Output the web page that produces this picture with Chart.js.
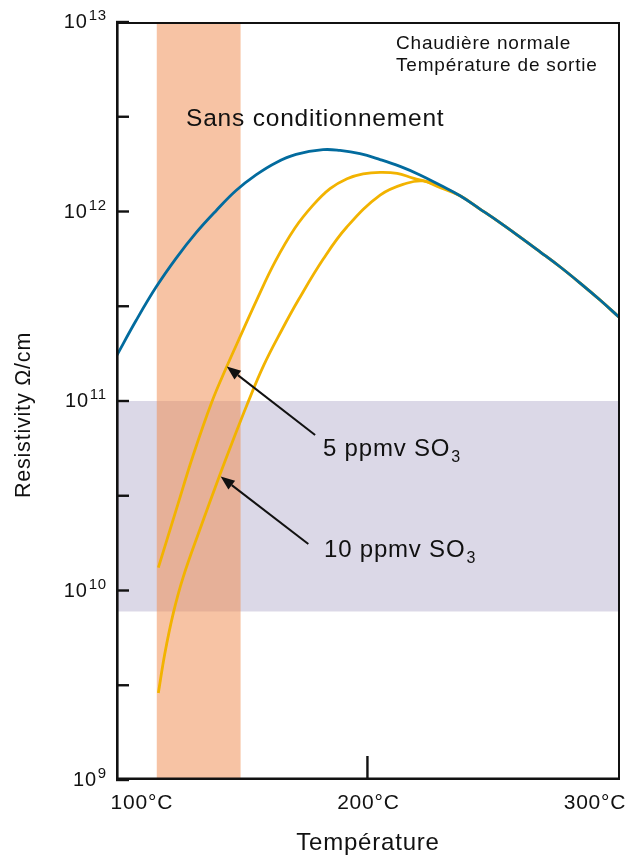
<!DOCTYPE html>
<html>
<head>
<meta charset="utf-8">
<script src="https://cdn.jsdelivr.net/npm/chart.js@4.4.0/dist/chart.umd.min.js"></script>
<style>
html,body{margin:0;padding:0;background:#fff;}
#wrap{width:636px;height:856px;position:relative;}
canvas{display:block;}
</style>
</head>
<body>
<div id="wrap"><canvas id="c" width="636" height="856"></canvas></div>
<script>
// ---------- data (temperature in °C, resistivity in Ω·cm) ----------
const tempNoCond = [89, 97.8, 106.7, 115.5, 124.3, 133.2, 142.0, 150.8, 159.6, 168.5, 180.4, 187.9, 196.7, 205.6, 214.4, 223.2, 232.0, 240.9, 249.7, 258.5, 267.4, 276.2, 285.0, 293.9, 302.7, 311.5];
const resNoCond  = [1.71e11, 2.65e11, 3.99e11, 5.66e11, 7.71e11, 1.01e12, 1.29e12, 1.56e12, 1.81e12, 2.00e12, 2.12e12, 2.10e12, 2.02e12, 1.88e12, 1.73e12, 1.56e12, 1.38e12, 1.21e12, 1.03e12, 8.74e11, 7.33e11, 6.13e11, 5.11e11, 4.19e11, 3.41e11, 2.74e11];

const temp5ppm = [107.7, 115.8, 123.1, 131.3, 137.9, 144.5, 151.1, 159.2, 168.0, 176.0, 183.5, 191.0, 198.1, 205.6, 213.1, 220.1, 227.6, 232.0, 240.9, 249.7, 258.5, 267.4, 276.2, 285.0, 293.9, 302.7, 311.5];
const res5ppm  = [1.32e10, 2.72e10, 5.19e10, 9.89e10, 1.52e11, 2.28e11, 3.41e11, 5.42e11, 8.18e11, 1.08e12, 1.32e12, 1.49e12, 1.58e12, 1.61e12, 1.59e12, 1.50e12, 1.42e12, 1.36e12, 1.21e12, 1.03e12, 8.74e11, 7.33e11, 6.13e11, 5.11e11, 4.19e11, 3.41e11, 2.74e11];

const temp10ppm = [107.7, 110.6, 114.3, 118.7, 126.1, 134.5, 140.2, 146.8, 154.3, 162.2, 169.5, 180.5, 190.9, 205.6, 217.3, 224.7, 230.6, 240.9, 249.7, 258.5, 267.4, 276.2, 285.0, 293.9, 302.7, 311.5];
const res10ppm  = [2.88e9, 4.68e9, 7.60e9, 1.18e10, 2.11e10, 3.97e10, 6.00e10, 9.53e10, 1.55e11, 2.37e11, 3.41e11, 5.61e11, 8.28e11, 1.22e12, 1.41e12, 1.45e12, 1.36e12, 1.21e12, 1.03e12, 8.74e11, 7.33e11, 6.13e11, 5.11e11, 4.19e11, 3.41e11, 2.74e11];

const noCondBandTemp = [107, 144];        // °C range of the orange band
const targetBandRes  = [7.75e9, 1e11];    // resistivity range of the lavender band

const xRange = [89, 311.5];
const yRange = [1e9, 1e13];
const xTickValues = [100, 200, 300];
const xTickLabels = ['100°C', '200°C', '300°C'];
const xInnerTicks = [200];
const yTickExponents = [9, 10, 11, 12, 13];
const yInnerTickExponents = [9, 9.5, 10, 10.5, 11, 11.5, 12, 12.5, 13];

const xTitle = 'Température';
const yTitle = 'Resistivity Ω/cm';
const noteLines = ['Chaudière normale', 'Température de sortie'];
const seriesNames = ['Sans conditionnement', '5 ppmv SO', '10 ppmv SO'];
const seriesSub = '3';

// arrows: [tailTemp, tailRes, tipTemp, tipRes]
const arrow5  = [176.9, 6.62e10, 137.9, 1.52e11];
const arrow10 = [173.9, 1.76e10, 135.2, 3.99e10];

// ---------- styles ----------
const FONT = '"Liberation Sans", Arial, Helvetica, sans-serif';
const BLUE = '#026B9E';
const YELLOW = '#F2B300';
const ORANGE = 'rgba(240,140,80,0.52)';
const LAVENDER = '#DBD8E7';
const INK = '#111111';

const toPts = (xs, ys) => xs.map((x, i) => ({x: x, y: ys[i]}));

const bandsPlugin = {
  id: 'bands',
  beforeDatasetsDraw(chart) {
    const {ctx, chartArea: a, scales: {x, y}} = chart;
    ctx.save();
    ctx.beginPath(); ctx.rect(a.left, a.top, a.right - a.left, a.bottom - a.top); ctx.clip();
    const yTop = y.getPixelForValue(targetBandRes[1]);
    const yBot = y.getPixelForValue(targetBandRes[0]);
    ctx.fillStyle = LAVENDER;
    ctx.fillRect(a.left, yTop, a.right - a.left, yBot - yTop);
    const xl = x.getPixelForValue(noCondBandTemp[0]);
    const xr = x.getPixelForValue(noCondBandTemp[1]);
    ctx.fillStyle = ORANGE;
    ctx.fillRect(xl, a.top, xr - xl, a.bottom - a.top);
    ctx.restore();
  }
};

function drawWithSub(ctx, main, sub, x, y, size, subSize) {
  ctx.font = size + 'px ' + FONT;
  ctx.textAlign = 'left';
  ctx.fillText(main, x, y);
  const w = ctx.measureText(main).width;
  ctx.font = subSize + 'px ' + FONT;
  ctx.fillText(sub, x + w + 1, y + 6);
}

function drawArrow(ctx, x, y, arr) {
  const x0 = x.getPixelForValue(arr[0]), y0 = y.getPixelForValue(arr[1]);
  const x1 = x.getPixelForValue(arr[2]), y1 = y.getPixelForValue(arr[3]);
  const ang = Math.atan2(y1 - y0, x1 - x0);
  const hl = 14, hw = 5.5;
  const bx = x1 - hl * Math.cos(ang), by = y1 - hl * Math.sin(ang);
  ctx.strokeStyle = INK; ctx.lineWidth = 2;
  ctx.beginPath(); ctx.moveTo(x0, y0); ctx.lineTo(bx, by); ctx.stroke();
  ctx.fillStyle = INK;
  ctx.beginPath();
  ctx.moveTo(x1, y1);
  ctx.lineTo(bx + hw * Math.sin(ang), by - hw * Math.cos(ang));
  ctx.lineTo(bx - hw * Math.sin(ang), by + hw * Math.cos(ang));
  ctx.closePath(); ctx.fill();
}

const framePlugin = {
  id: 'frame',
  afterDatasetsDraw(chart) {
    const {ctx, chartArea: a, scales: {x, y}} = chart;
    ctx.save();
    ctx.letterSpacing = '0.8px';
    ctx.strokeStyle = INK;
    ctx.lineCap = 'butt';
    ctx.lineWidth = 2;
    ctx.beginPath();
    ctx.moveTo(a.left, a.top + 1); ctx.lineTo(a.right - 1, a.top + 1); ctx.lineTo(a.right - 1, a.bottom);
    ctx.stroke();
    ctx.lineWidth = 2.6;
    ctx.beginPath();
    ctx.moveTo(a.left + 1.3, a.top); ctx.lineTo(a.left + 1.3, a.bottom - 1.3); ctx.lineTo(a.right, a.bottom - 1.3);
    ctx.stroke();
    ctx.lineWidth = 2.4;
    yInnerTickExponents.forEach(e => {
      const py = y.getPixelForValue(Math.pow(10, e));
      ctx.beginPath(); ctx.moveTo(a.left, py); ctx.lineTo(a.left + 13, py); ctx.stroke();
    });
    xInnerTicks.forEach(v => {
      const px = x.getPixelForValue(v);
      ctx.beginPath(); ctx.moveTo(px, a.bottom); ctx.lineTo(px, a.bottom - 24); ctx.stroke();
    });
    ctx.fillStyle = INK;
    ctx.textBaseline = 'alphabetic';
    yTickExponents.forEach(e => {
      const py = y.getPixelForValue(Math.pow(10, e));
      const by = py + 6;
      ctx.font = '15px ' + FONT;
      const sup = String(e);
      const ws = ctx.measureText(sup).width;
      ctx.textAlign = 'right';
      ctx.fillText(sup, 107, by - 8);
      ctx.font = '20px ' + FONT;
      ctx.fillText('10', 107 - ws - 1, by);
    });
    ctx.font = '21px ' + FONT;
    ctx.textAlign = 'center';
    xTickValues.forEach((v, i) => {
      ctx.fillText(xTickLabels[i], x.getPixelForValue(v) + 1, 809);
    });
    ctx.font = '24px ' + FONT;
    ctx.fillText(xTitle, (a.left + a.right) / 2, 850);
    ctx.save();
    ctx.translate(30, 415);
    ctx.rotate(-Math.PI / 2);
    ctx.font = '21.5px ' + FONT;
    ctx.textAlign = 'center';
    ctx.fillText(yTitle, 0, 0);
    ctx.restore();
    ctx.font = '19px ' + FONT;
    ctx.textAlign = 'left';
    ctx.fillText(noteLines[0], 396, 49);
    ctx.fillText(noteLines[1], 396, 71);
    ctx.font = '24.5px ' + FONT;
    ctx.fillText(seriesNames[0], 186, 126);
    drawWithSub(ctx, seriesNames[1], seriesSub, 323, 456, 24, 16);
    drawWithSub(ctx, seriesNames[2], seriesSub, 324, 557, 24, 16);
    drawArrow(ctx, x, y, arrow5);
    drawArrow(ctx, x, y, arrow10);
    ctx.restore();
  }
};

const lineStyle = {borderWidth: 2.8, pointRadius: 0, fill: false, tension: 0.4};

new Chart(document.getElementById('c').getContext('2d'), {
  type: 'line',
  data: {
    datasets: [
      Object.assign({label: seriesNames[0], data: toPts(tempNoCond, resNoCond), borderColor: BLUE}, lineStyle),
      Object.assign({label: seriesNames[1] + seriesSub, data: toPts(temp5ppm, res5ppm), borderColor: YELLOW}, lineStyle),
      Object.assign({label: seriesNames[2] + seriesSub, data: toPts(temp10ppm, res10ppm), borderColor: YELLOW}, lineStyle)
    ]
  },
  options: {
    responsive: false,
    animation: false,
    devicePixelRatio: 1,
    layout: {padding: {top: 22, right: 16, left: 0, bottom: 0}},
    plugins: {legend: {display: false}, tooltip: {enabled: false}, title: {display: false}},
    scales: {
      x: {type: 'linear', min: xRange[0], max: xRange[1],
          afterFit(s) { s.height = 76; },
          grid: {display: false}, border: {display: false}, ticks: {display: false}},
      y: {type: 'logarithmic', min: yRange[0], max: yRange[1],
          afterFit(s) { s.width = 116; },
          grid: {display: false}, border: {display: false}, ticks: {display: false}}
    }
  },
  plugins: [bandsPlugin, framePlugin]
});
</script>
</body>
</html>
